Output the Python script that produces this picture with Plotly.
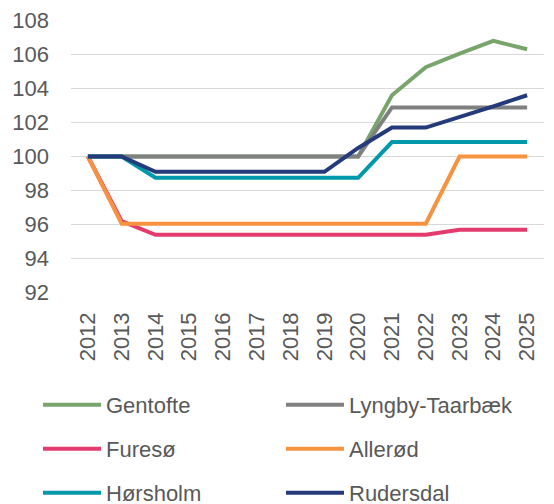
import plotly.graph_objects as go

years = [str(y) for y in range(2012, 2026)]

gentofte = [100, 100, 100, 100, 100, 100, 100, 100, 100, 103.6, 105.25, 106.05, 106.8, 106.3]
lyngby = [100, 100, 100, 100, 100, 100, 100, 100, 100, 102.88, 102.88, 102.88, 102.88, 102.88]
furesoe = [100, 96.2, 95.4, 95.4, 95.4, 95.4, 95.4, 95.4, 95.4, 95.4, 95.4, 95.7, 95.7, 95.7]
alleroed = [100, 96.05, 96.05, 96.05, 96.05, 96.05, 96.05, 96.05, 96.05, 96.05, 96.05, 100, 100, 100]
hoersholm = [100, 100, 98.75, 98.75, 98.75, 98.75, 98.75, 98.75, 98.75, 100.85, 100.85, 100.85, 100.85, 100.85]
rudersdal = [100, 100, 99.1, 99.1, 99.1, 99.1, 99.1, 99.1, 100.5, 101.7, 101.7, 102.3, 102.95, 103.6]

series = [
    ("Gentofte", gentofte, "#79A56D", "legend"),
    ("Lyngby-Taarbæk", lyngby, "#808080", "legend"),
    ("Furesø", furesoe, "#E33B6D", "legend2"),
    ("Allerød", alleroed, "#F79241", "legend2"),
    ("Hørsholm", hoersholm, "#0099AB", "legend3"),
    ("Rudersdal", rudersdal, "#253A7B", "legend3"),
]

# the page body has an 8px margin, so the figure is a bit smaller
W, H = 546, 496
L, T, B = 63, 12, 211
plot_h = H - T - B
plot_w = W - L - 10

fig = go.Figure()
for name, vals, color, leg in series:
    fig.add_trace(go.Scatter(x=years, y=vals, name=name, mode="lines",
                             line=dict(color=color, width=4),
                             legend=leg))

font = dict(family="Liberation Sans, Arial", size=22, color="#595959")

# one legend per row, positioned in paper coords from pixel offsets
def leg(py):
    return dict(orientation="h",
                x=(30 - L) / plot_w, xanchor="left",
                y=(H - B - py) / plot_h, yanchor="middle",
                entrywidth=170, entrywidthmode="pixels", itemwidth=58,
                font=font, bgcolor="rgba(0,0,0,0)", traceorder="normal")

fig.update_layout(
    width=W, height=H,
    margin=dict(l=L, r=10, t=T, b=B, autoexpand=False),
    paper_bgcolor="white", plot_bgcolor="white",
    font=font,
    showlegend=True,
    legend=leg(397),
    legend2=leg(441),
    legend3=leg(485),
    xaxis=dict(type="category", range=[-0.5, 13.5], tickangle=-90,
               showgrid=False, showline=False, ticks="", tickfont=font,
               automargin=False, ticklabelstandoff=14),
    yaxis=dict(range=[91.98, 108.02], tickvals=list(range(92, 109, 2)),
               showgrid=True, gridcolor="#D9D9D9",
               gridwidth=1.3, zeroline=False, showline=False, ticks="",
               tickfont=font, automargin=False, ticklabelstandoff=21),
)

fig.write_html("out.html")
